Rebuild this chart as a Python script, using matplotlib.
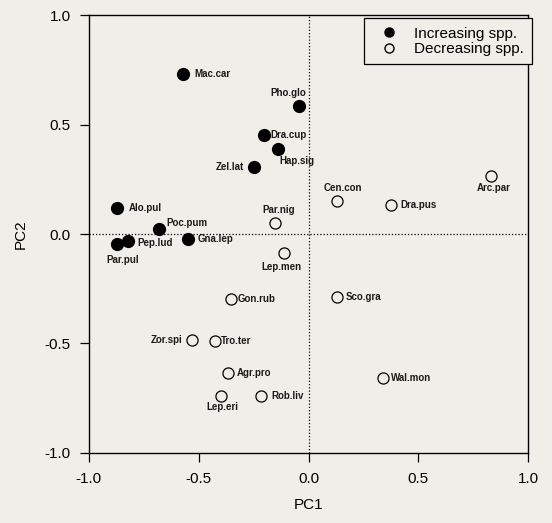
import matplotlib
matplotlib.use("Agg")
import matplotlib.pyplot as plt
from matplotlib.lines import Line2D

plt.rcParams['font.family'] = ['Liberation Sans', 'DejaVu Sans']

inc_names = ["Mac.car", "Pho.glo", "Dra.cup", "Hap.sig", "Zel.lat", "Alo.pul",
             "Poc.pum", "Pep.lud", "Par.pul", "Gna.lep"]
inc_pc1 = [-0.571, -0.044, -0.205, -0.139, -0.247, -0.870, -0.679, -0.823, -0.870, -0.547]
inc_pc2 = [0.729, 0.584, 0.452, 0.387, 0.305, 0.117, 0.023, -0.032, -0.046, -0.024]

dec_names = ["Par.nig", "Lep.men", "Gon.rub", "Zor.spi", "Tro.ter", "Agr.pro",
             "Lep.eri", "Rob.liv", "Wal.mon", "Cen.con", "Dra.pus", "Arc.par", "Sco.gra"]
dec_pc1 = [-0.155, -0.112, -0.355, -0.532, -0.426, -0.367, -0.400, -0.217, 0.339,
           0.130, 0.376, 0.832, 0.130]
dec_pc2 = [0.049, -0.085, -0.297, -0.484, -0.489, -0.633, -0.738, -0.740, -0.656,
           0.152, 0.132, 0.266, -0.286]

ticks = [-1.0, -0.5, 0.0, 0.5, 1.0]

# label placement: (dx px, dy px, ha)
label_pos = {
    "Mac.car": (11, 0, "left"),
    "Pho.glo": (-11, 13, "center"),
    "Dra.cup": (7, 0, "left"),
    "Hap.sig": (1, -12, "left"),
    "Zel.lat": (-10, 0, "right"),
    "Alo.pul": (11, 0, "left"),
    "Poc.pum": (7, 6, "left"),
    "Pep.lud": (10, -2, "left"),
    "Par.pul": (5, -16, "center"),
    "Gna.lep": (9, 0, "left"),
    "Par.nig": (4, 13, "center"),
    "Lep.men": (-3, -14, "center"),
    "Gon.rub": (7, 0, "left"),
    "Zor.spi": (-9, 0, "right"),
    "Tro.ter": (6, 0, "left"),
    "Agr.pro": (9, 0, "left"),
    "Lep.eri": (2, -11, "center"),
    "Rob.liv": (10, 0, "left"),
    "Wal.mon": (8, 0, "left"),
    "Cen.con": (6, 13, "center"),
    "Dra.pus": (9, 0, "left"),
    "Arc.par": (2, -12, "center"),
    "Sco.gra": (9, 0, "left"),
}

bg = "#efeee9"
DPI = 100
fig = plt.figure(figsize=(5.52, 5.23), dpi=DPI, facecolor=bg)
ax = fig.add_axes([0.161, 0.134, 0.796, 0.837], facecolor=bg)

ax.axhline(0, color="black", lw=0.9, ls=(0, (1, 1.6)), zorder=1)
ax.axvline(0, color="black", lw=0.9, ls=(0, (1, 1.6)), zorder=1)

ax.plot(inc_pc1, inc_pc2, "o", ms=8.5, mfc="black", mec="black", ls="none", zorder=3)
ax.plot(dec_pc1, dec_pc2, "o", ms=8, mfc="none", mec="black", mew=0.9, ls="none", zorder=3)

pt = 72.0 / DPI
for names, xs, ys in ((inc_names, inc_pc1, inc_pc2), (dec_names, dec_pc1, dec_pc2)):
    for n, x, y in zip(names, xs, ys):
        dx, dy, ha = label_pos[n]
        ax.annotate(n, (x, y), xytext=(dx * pt, dy * pt), textcoords="offset points",
                    ha=ha, va="center", fontsize=7, fontweight="bold", color="#1a1a1a")

ax.set_xlim(-1.0, 1.0)
ax.set_ylim(-1.0, 1.0)
ax.set_xticks(ticks)
ax.set_yticks(ticks)
ax.set_xticklabels([f"{t:.1f}" for t in ticks])
ax.set_yticklabels([f"{t:.1f}" for t in ticks])
ax.tick_params(direction="out", length=6.5, width=0.9, labelsize=11)
ax.tick_params(axis="y", pad=6.5)
ax.tick_params(axis="x", pad=7)
for s in ax.spines.values():
    s.set_linewidth(1.0)

ax.set_xlabel("PC1", fontsize=11, labelpad=9)
ax.set_ylabel("PC2", fontsize=11, labelpad=12)

handles = [
    Line2D([], [], marker="o", ls="none", ms=6.5, mfc="black", mec="black"),
    Line2D([], [], marker="o", ls="none", ms=6.5, mfc="none", mec="black"),
]
leg = ax.legend(handles, ["Increasing spp.", "Decreasing spp."], loc="upper right",
                bbox_to_anchor=(1.0 + 4 / 439, 1.0 - 3 / 438), borderaxespad=0,
                fontsize=11, fancybox=False, edgecolor="black",
                framealpha=1, handlelength=2.1, handletextpad=0.6, borderpad=0.55,
                labelspacing=0.1)
leg.get_frame().set_facecolor(bg)
leg.get_frame().set_linewidth(0.9)

fig.savefig("out.png", dpi=DPI, facecolor=bg)
